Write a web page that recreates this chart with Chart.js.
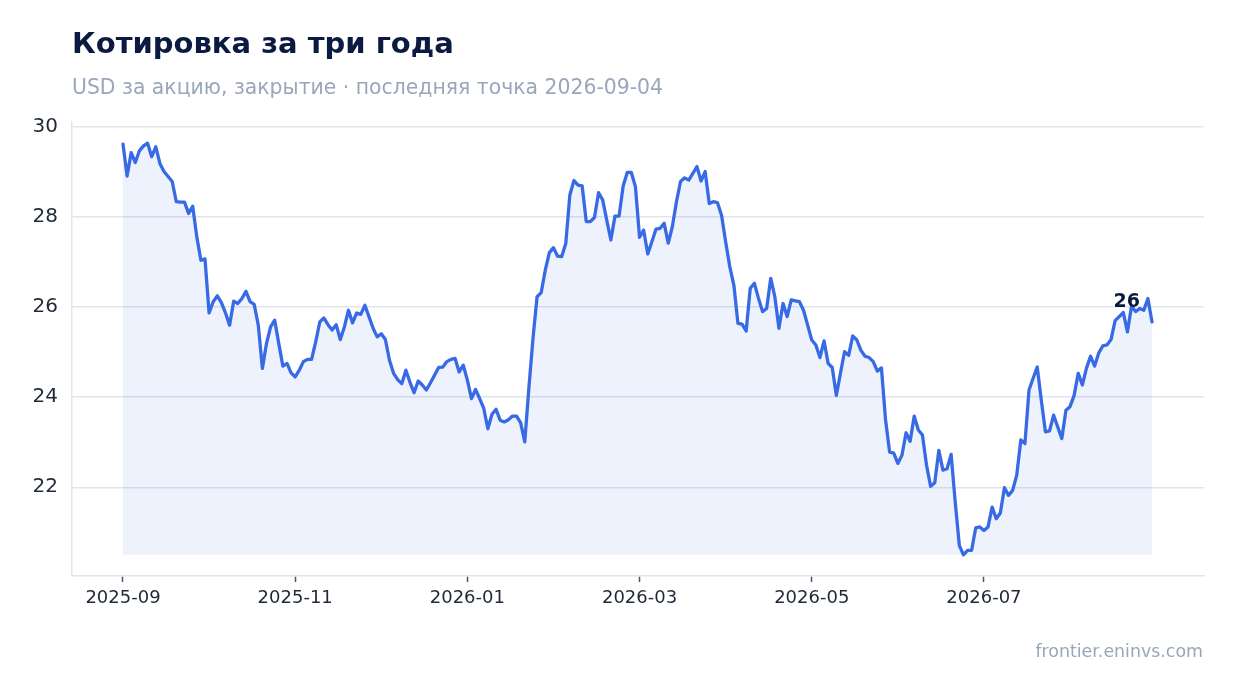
<!DOCTYPE html>
<html lang="ru">
<head>
<meta charset="utf-8">
<title>Котировка за три года</title>
<script src="https://cdn.jsdelivr.net/npm/chart.js@4.4.1/dist/chart.umd.min.js"></script>
<style>
  html, body { margin: 0; padding: 0; background: #fff; }
  body { width: 1234px; height: 693px; position: relative; overflow: hidden; font-family: "DejaVu Sans", sans-serif; }
  canvas { position: absolute; left: 0; top: 0; }
  #title { position: absolute; left: 72px; top: 29px; font-size: 29px; line-height: 29px; font-weight: bold; color: #0b1a40; white-space: nowrap; }
  #subtitle { position: absolute; left: 72px; top: 77px; font-size: 20.4px; line-height: 20px; color: #9aa6ba; white-space: nowrap; }
  #source { position: absolute; right: 31px; top: 643px; font-size: 17.4px; line-height: 17px; color: #9aa6ba; white-space: nowrap; }
</style>
</head>
<body>
<canvas id="quoteChart" width="1234" height="693"></canvas>
<div id="title">Котировка за три года</div>
<div id="subtitle">USD за акцию, закрытие · последняя точка 2026-09-04</div>
<div id="source">frontier.eninvs.com</div>
<script>
  // Daily closes (one value per trading day)
  const closes = [
    29.62, 28.91, 29.43, 29.21, 29.47, 29.58, 29.64, 29.34, 29.56, 29.19,
    29.01, 28.90, 28.79, 28.34, 28.33, 28.33, 28.08, 28.24, 27.56, 27.04,
    27.07, 25.87, 26.12, 26.25, 26.10, 25.87, 25.60, 26.13, 26.08, 26.19,
    26.35, 26.12, 26.06, 25.60, 24.64, 25.19, 25.56, 25.71, 25.19, 24.69,
    24.75, 24.54, 24.45, 24.60, 24.79, 24.84, 24.84, 25.23, 25.67, 25.76,
    25.61, 25.49, 25.61, 25.28, 25.56, 25.93, 25.65, 25.87, 25.84, 26.04,
    25.79, 25.53, 25.34, 25.41, 25.28, 24.82, 24.53, 24.39, 24.30, 24.60,
    24.33, 24.10, 24.36, 24.27, 24.16, 24.32, 24.49, 24.66, 24.67, 24.79,
    24.84, 24.86, 24.56, 24.71, 24.38, 23.97, 24.17, 23.97, 23.75, 23.30,
    23.62, 23.73, 23.49, 23.45, 23.50, 23.58, 23.58, 23.43, 23.01, 24.20,
    25.30, 26.23, 26.32, 26.82, 27.21, 27.32, 27.13, 27.12, 27.41, 28.49,
    28.81, 28.71, 28.69, 27.90, 27.90, 27.99, 28.54, 28.38, 27.93, 27.49,
    28.02, 28.02, 28.69, 28.99, 28.99, 28.67, 27.55, 27.71, 27.18, 27.45,
    27.73, 27.75, 27.86, 27.42, 27.79, 28.34, 28.79, 28.87, 28.82, 28.97,
    29.12, 28.80, 29.01, 28.30, 28.34, 28.32, 28.04, 27.45, 26.90, 26.49,
    25.64, 25.62, 25.47, 26.42, 26.53, 26.20, 25.90, 25.97, 26.64, 26.23,
    25.53, 26.08, 25.79, 26.16, 26.14, 26.12, 25.93, 25.60, 25.27, 25.16,
    24.88, 25.25, 24.75, 24.66, 24.04, 24.53, 25.01, 24.93, 25.36, 25.27,
    25.04, 24.91, 24.88, 24.79, 24.58, 24.65, 23.50, 22.78, 22.76, 22.53,
    22.71, 23.21, 23.02, 23.58, 23.27, 23.16, 22.49, 22.02, 22.10, 22.82,
    22.38, 22.41, 22.73, 21.67, 20.71, 20.50, 20.60, 20.60, 21.10, 21.12,
    21.04, 21.12, 21.56, 21.30, 21.43, 21.99, 21.82, 21.93, 22.27, 23.05,
    22.97, 24.16, 24.42, 24.67, 23.93, 23.23, 23.25, 23.60, 23.34, 23.08,
    23.71, 23.79, 24.04, 24.53, 24.27, 24.64, 24.91, 24.69, 24.98, 25.14,
    25.16, 25.28, 25.70, 25.79, 25.88, 25.45, 26.02, 25.90, 25.97, 25.93,
    26.19, 25.67
  ];

  // X ticks: every 42nd trading day, labelled by month
  const tickIndex = [0, 42, 84, 126, 168, 210];
  const tickLabels = ["2025-09", "2025-11", "2026-01", "2026-03", "2026-05", "2026-07"];
  const yTicks = [22, 24, 26, 28, 30];

  const FONT = "'DejaVu Sans', sans-serif";
  const lineColor = "#386ae6";
  const fillColor = "rgba(56, 106, 230, 0.09)";
  const gridColor = "#e1e5ee";
  const textColor = "#1f2937";

  const points = closes.map((v, i) => ({ x: i, y: v }));
  const minClose = Math.min(...closes);

  // Rounded last value written just left of / above the final point
  const lastValueLabel = {
    id: "lastValueLabel",
    afterDatasetsDraw(chart) {
      const meta = chart.getDatasetMeta(0);
      const last = meta.data[meta.data.length - 1];
      const ctx = chart.ctx;
      ctx.save();
      ctx.font = "bold 19px " + FONT;
      ctx.fillStyle = "#0b1a40";
      ctx.textAlign = "right";
      ctx.textBaseline = "alphabetic";
      ctx.fillText(String(Math.round(closes[closes.length - 1])), last.x - 12, last.y - 15);
      ctx.restore();
    }
  };

  new Chart(document.getElementById("quoteChart").getContext("2d"), {
    type: "line",
    data: {
      datasets: [{
        data: points,
        borderColor: lineColor,
        borderWidth: 3.3,
        borderJoinStyle: "round",
        borderCapStyle: "round",
        backgroundColor: fillColor,
        fill: { value: minClose },
        pointRadius: 0,
        tension: 0
      }]
    },
    options: {
      responsive: false,
      animation: false,
      layout: { padding: { top: 122, right: 30, bottom: 0, left: 0 } },
      plugins: {
        legend: { display: false },
        tooltip: { enabled: false }
      },
      scales: {
        x: {
          type: "linear",
          min: -12.44,
          max: 263.68,
          afterBuildTicks: (scale) => { scale.ticks = tickIndex.map((v) => ({ value: v })); },
          afterFit: (scale) => { scale.height = 117; },
          grid: { drawOnChartArea: false, drawTicks: true, tickLength: 6, tickColor: "#4b5563", tickWidth: 1.5 },
          border: { color: gridColor, width: 1.5 },
          ticks: {
            padding: 6,
            color: textColor,
            font: { family: FONT, size: 18 },
            maxRotation: 0,
            autoSkip: false,
            callback: (value, index) => tickLabels[index]
          }
        },
        y: {
          min: 20.03,
          max: 30.11,
          afterBuildTicks: (scale) => { scale.ticks = yTicks.map((v) => ({ value: v })); },
          afterFit: (scale) => { scale.width = 72; },
          grid: { color: gridColor, lineWidth: 1.5, drawTicks: false },
          border: { color: gridColor, width: 1.5 },
          ticks: {
            padding: 14,
            color: textColor,
            font: { family: FONT, size: 20 }
          }
        }
      }
    },
    plugins: [lastValueLabel]
  });
</script>
</body>
</html>
